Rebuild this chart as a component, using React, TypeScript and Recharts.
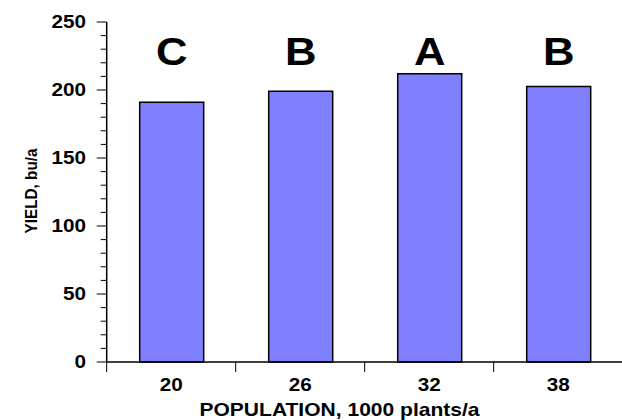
import React from "react";
import { BarChart, Bar, XAxis, YAxis, LabelList } from "recharts";

const categories = ["20", "26", "32", "38"];
const yieldValues = [191, 199, 212, 202.5];
const letters = ["C", "B", "A", "B"];
const yTicks = [0, 10, 20, 30, 40, 50, 60, 70, 80, 90, 100, 110, 120, 130, 140, 150, 160, 170, 180, 190, 200, 210, 220, 230, 240, 250];

const data = categories.map((c, i) => ({ pop: c, yield: yieldValues[i], letter: letters[i] }));

const CHART_W = 640;
const CHART_H = 420;
const M_TOP = 22;
const M_RIGHT = 17.3;
const Y_W = 106.7;
const X_H = 58;
const BAND = (CHART_W - M_RIGHT - Y_W) / categories.length;
const SX = 1.12;
const FONT = "'Liberation Sans', Arial, Helvetica, sans-serif";

const YTick = (props: any) => {
  const { x, y, payload } = props;
  const v = payload.value;
  const major = v % 50 === 0;
  return (
    <g>
      <line x1={x - (major ? 10 : 6)} x2={x} y1={y} y2={y} stroke="#000" strokeWidth={1} />
      {major && (
        <text
          transform={`translate(${x - 20.7},${y + 5.5}) scale(${SX},1)`}
          textAnchor="end"
          fontFamily={FONT}
          fontWeight="bold"
          fontSize={18.5}
          fill="#000"
        >
          {v}
        </text>
      )}
    </g>
  );
};

const XTick = (props: any) => {
  const { x, y, payload } = props;
  const left = x - BAND / 2;
  return (
    <g>
      <line x1={left} x2={left} y1={y} y2={y + 10} stroke="#000" strokeWidth={1} />
      <text
        transform={`translate(${x},${y + 29.3}) scale(${SX},1)`}
        textAnchor="middle"
        fontFamily={FONT}
        fontWeight="bold"
        fontSize={18.5}
        fill="#000"
      >
        {payload.value}
      </text>
    </g>
  );
};

const XTitle = (props: any) => {
  const vb = props.viewBox || { x: Y_W, y: CHART_H - X_H };
  return (
    <text
      transform={`translate(339.5,${vb.y + 54.3}) scale(${SX},1)`}
      textAnchor="middle"
      fontFamily={FONT}
      fontWeight="bold"
      fontSize={18.8}
      fill="#000"
    >
      POPULATION, 1000 plants/a
    </text>
  );
};

const YTitle = (props: any) => {
  const vb = props.viewBox || { x: 0, y: M_TOP, width: Y_W, height: 340 };
  const cy = vb.y + vb.height / 2 - 1;
  return (
    <text
      transform={`translate(36.5,${cy}) scale(${SX},1) rotate(-90)`}
      textAnchor="middle"
      fontFamily={FONT}
      fontWeight="bold"
      fontSize={15.3}
      fill="#000"
    >
      YIELD, bu/a
    </text>
  );
};

const LetterLabel = (props: any) => {
  const { x, width, value } = props;
  const cx = x + width / 2;
  return (
    <text
      transform={`translate(${cx},${M_TOP + 42.5}) scale(${SX},1)`}
      textAnchor="middle"
      fontFamily={FONT}
      fontWeight="bold"
      fontSize={39}
      fill="#000"
    >
      {value}
    </text>
  );
};

export default function App() {
  return (
    <div style={{ position: "absolute", left: 0, top: 0, width: 622, height: 420, overflow: "hidden", background: "#fff" }}>
      <BarChart
        width={CHART_W}
        height={CHART_H}
        data={data}
        margin={{ top: M_TOP, right: M_RIGHT, bottom: 0, left: 0 }}
        barSize={64}
      >
        <XAxis
          dataKey="pop"
          type="category"
          height={X_H}
          tickSize={0}
          tickMargin={0}
          tickLine={false}
          axisLine={{ stroke: "#000", strokeWidth: 1.5 }}
          tick={<XTick />}
          interval={0}
          label={<XTitle />}
        />
        <XAxis
          xAxisId="top"
          dataKey="pop"
          orientation="top"
          height={0}
          tick={false}
          tickLine={false}
          axisLine={{ stroke: "#000", strokeWidth: 1.5 }}
        />
        <YAxis
          type="number"
          domain={[0, 250]}
          ticks={yTicks}
          interval={0}
          width={Y_W}
          tickSize={0}
          tickMargin={0}
          tickLine={false}
          axisLine={{ stroke: "#000", strokeWidth: 1.5 }}
          tick={<YTick />}
          label={<YTitle />}
        />
        <Bar dataKey="yield" fill="#8080FF" stroke="#000" strokeWidth={1.5} isAnimationActive={false}>
          <LabelList dataKey="letter" content={<LetterLabel />} />
        </Bar>
      </BarChart>
    </div>
  );
}
